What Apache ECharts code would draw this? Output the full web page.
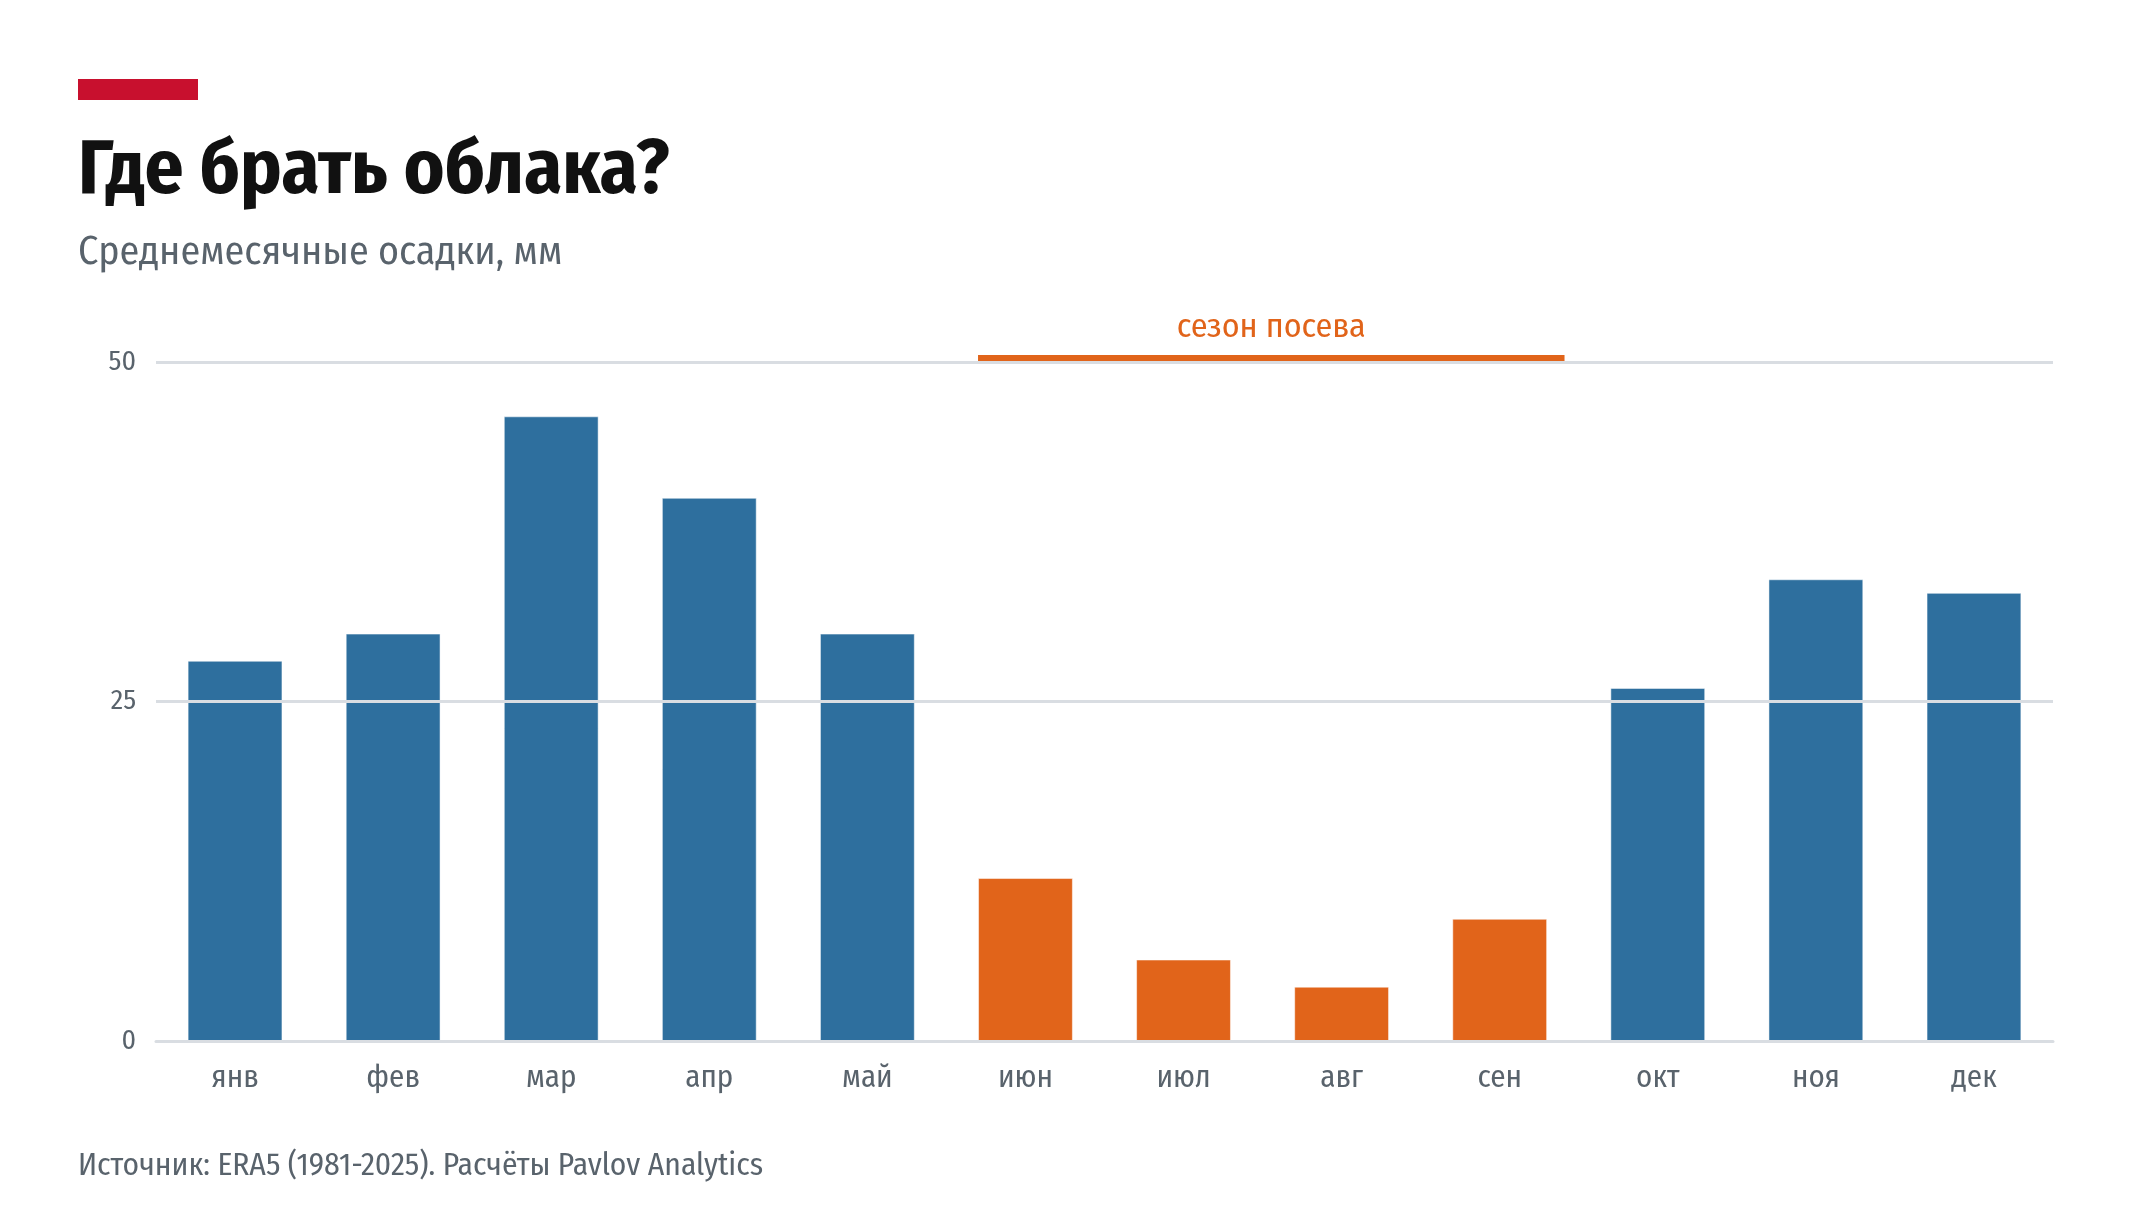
<!DOCTYPE html>
<html>
<head>
<meta charset="utf-8">
<script src="https://cdn.jsdelivr.net/npm/echarts@6/dist/echarts.min.js"></script>
<style>
  html, body { margin: 0; padding: 0; background: #fff; }
  #chart-container { width: 2132px; height: 1222px; }
</style>
</head>
<body>
<div id="chart-container"></div>
<script>
const months = ["янв", "фев", "мар", "апр", "май", "июн", "июл", "авг", "сен", "окт", "ноя", "дек"];
const precipitation = [28, 30, 46, 40, 30, 12, 6, 4, 9, 26, 34, 33];
const seasonMonths = ["июн", "июл", "авг", "сен"];
const yMax = 50;
const yStep = 25;
const titleText = "Где брать облака?";
const subtitleText = "Среднемесячные осадки, мм";
const seasonLabel = "сезон посева";
const sourceText = "Источник: ERA5 (1981-2025). Расчёты Pavlov Analytics";

const BLUE = "#2e6f9e";
const ORANGE = "#e1641a";
const RED = "#c8102e";
const GREY_TEXT = "#59636c";
const GRID_LINE = "#d9dde2";

// pick the first condensed-ish font that is actually installed
function pickFont(list) {
  const ctx = document.createElement("canvas").getContext("2d");
  const probe = "Где брать облака? 1981";
  ctx.font = "40px monospace";
  const base = ctx.measureText(probe).width;
  for (const f of list) {
    ctx.font = "40px '" + f + "', monospace";
    if (ctx.measureText(probe).width !== base) return f;
  }
  return "sans-serif";
}
const FONT = pickFont(["Fira Sans Condensed", "Roboto Condensed", "Liberation Sans Narrow", "Noto Sans"]);

let dom = document.getElementById("chart-container");
let myChart = echarts.init(dom, null, { renderer: "canvas" });

const barData = months.map((m, i) => ({
  value: precipitation[i],
  itemStyle: { color: seasonMonths.includes(m) ? ORANGE : BLUE },
}));

const seasonStart = months.indexOf(seasonMonths[0]);
const seasonEnd = months.indexOf(seasonMonths[seasonMonths.length - 1]);

let option = {
  backgroundColor: "#fff",
  textStyle: { fontFamily: FONT },
  animation: false,
  grid: { left: 156, right: 79, top: 362, bottom: 181 },
  graphic: [
    { type: "rect", left: 78, top: 79, shape: { width: 120, height: 21 }, style: { fill: RED } },
    {
      type: "text", left: 78, top: 133,
      style: { text: titleText, fill: "#111", font: "bold 77px '" + FONT + "'" },
    },
    {
      type: "text", left: 78, top: 233,
      style: { text: subtitleText, fill: GREY_TEXT, font: "40px '" + FONT + "'" },
    },
    {
      type: "text", left: 78, top: 1150,
      style: { text: sourceText, fill: GREY_TEXT, font: "31.5px '" + FONT + "'" },
    },
  ],
  xAxis: {
    type: "category",
    data: months,
    z: 3,
    axisTick: { show: false },
    axisLine: { lineStyle: { color: GRID_LINE, width: 3 } },
    axisLabel: { margin: 22, fontSize: 31, color: GREY_TEXT, fontFamily: FONT },
  },
  yAxis: {
    type: "value",
    min: 0,
    max: yMax,
    interval: yStep,
    z: 3,
    axisLine: { show: false },
    axisTick: { show: false },
    axisLabel: { margin: 20, fontSize: 28, color: GREY_TEXT, fontFamily: FONT },
    splitLine: { lineStyle: { color: GRID_LINE, width: 3 } },
  },
  series: [
    {
      type: "bar",
      barWidth: "60%",
      data: barData,
      itemStyle: { borderColor: "rgba(255,255,255,0.5)", borderWidth: 1 },
    },
    {
      // sowing season bracket above the top gridline
      type: "custom",
      clip: false,
      z: 10,
      encode: { x: [0, 1], y: 2 },
      data: [[seasonStart, seasonEnd, yMax]],
      renderItem: (params, api) => {
        const a = api.coord([api.value(0), api.value(2)]);
        const b = api.coord([api.value(1), api.value(2)]);
        const band = api.size([1, 0])[0];
        const x0 = a[0] - band * 0.3;
        const x1 = b[0] + band * 0.41;
        return {
          type: "group",
          children: [
            { type: "rect", shape: { x: x0, y: a[1] - 7, width: x1 - x0, height: 6 }, style: { fill: ORANGE } },
            {
              type: "text",
              style: {
                text: seasonLabel, x: (x0 + x1) / 2, y: a[1] - 34,
                align: "center", verticalAlign: "middle",
                fill: ORANGE, font: "34px '" + FONT + "'",
              },
            },
          ],
        };
      },
    },
  ],
};

myChart.setOption(option);
window.addEventListener("resize", myChart.resize);
</script>
</body>
</html>
